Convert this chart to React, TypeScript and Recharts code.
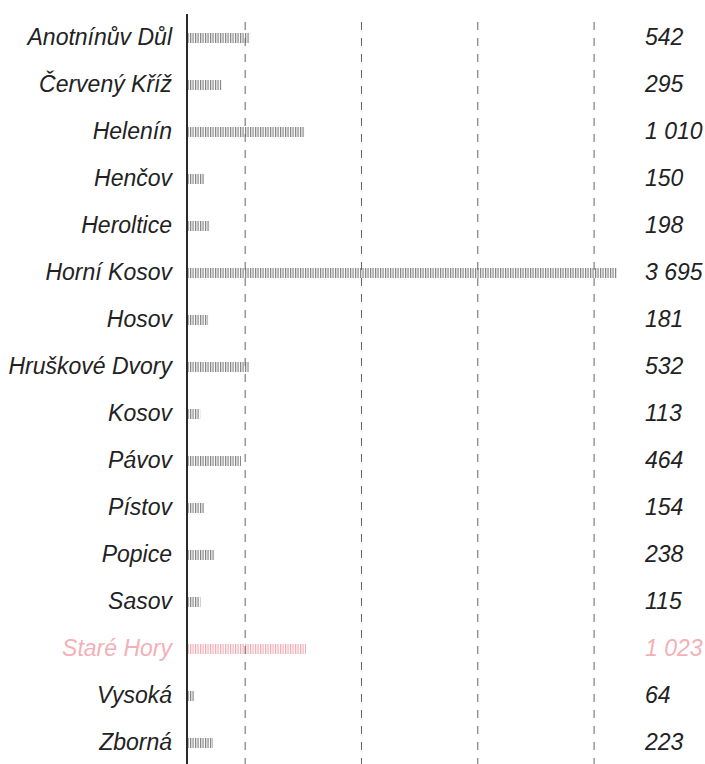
import { BarChart, Bar, XAxis, YAxis, Cell, ReferenceLine } from 'recharts'

const places = [
  'Anotnínův Důl',
  'Červený Kříž',
  'Helenín',
  'Henčov',
  'Heroltice',
  'Horní Kosov',
  'Hosov',
  'Hruškové Dvory',
  'Kosov',
  'Pávov',
  'Pístov',
  'Popice',
  'Sasov',
  'Staré Hory',
  'Vysoká',
  'Zborná',
]

const population = [542, 295, 1010, 150, 198, 3695, 181, 532, 113, 464, 154, 238, 115, 1023, 64, 223]

const gridTicks = [500, 1500, 2500, 3500]

const highlighted = 'Staré Hory'

const data = places.map((name, i) => ({ name, value: population[i] }))

const FONT = '"Liberation Sans", Arial, Helvetica, sans-serif'
const INK = '#222'
const PINK = '#f3b1b7'

const fmt = (v: number) => String(v).replace(/\B(?=(\d{3})+(?!\d))/g, ' ')

function NameTick(props: any) {
  const { x, y, payload } = props
  const hi = payload.value === highlighted
  return (
    <text
      x={x}
      y={y}
      dy={7}
      textAnchor="end"
      fontFamily={FONT}
      fontStyle="italic"
      fontSize={23}
      fill={hi ? PINK : INK}
    >
      {payload.value}
    </text>
  )
}

function ValueTick(props: any) {
  const { x, y, payload, index } = props
  const hi = payload.value === highlighted
  return (
    <text
      x={x}
      y={y}
      dy={7}
      textAnchor="start"
      fontFamily={FONT}
      fontStyle="italic"
      fontSize={23}
      fill={hi ? PINK : INK}
    >
      {fmt(data[index].value)}
    </text>
  )
}

export default function App() {
  return (
    <div
      style={{
        position: 'absolute',
        top: 0,
        left: 0,
        width: 705,
        height: 764,
        overflow: 'hidden',
        background: '#fff',
      }}
    >
      <BarChart
        width={705}
        height={766}
        data={data}
        layout="vertical"
        margin={{ top: 14, right: 0, bottom: 0, left: 0 }}
        barSize={10}
      >
        <defs>
          <pattern id="stripes" width="2.5" height="10" patternUnits="userSpaceOnUse">
            <rect x="0" y="0" width="1.2" height="10" fill="#808080" />
          </pattern>
          <pattern id="stripesPink" width="2.5" height="10" patternUnits="userSpaceOnUse">
            <rect x="0" y="0" width="1.2" height="10" fill="#f2a9b0" />
          </pattern>
        </defs>
        <XAxis type="number" domain={[0, 3800]} ticks={gridTicks} hide />
        <YAxis
          type="category"
          dataKey="name"
          width={187}
          tick={<NameTick />}
          tickLine={false}
          tickSize={0}
          tickMargin={15}
          axisLine={{ stroke: '#2a2a2a', strokeWidth: 2 }}
          interval={0}
        />
        <YAxis
          yAxisId="right"
          orientation="right"
          type="category"
          dataKey="name"
          width={76}
          tick={<ValueTick />}
          tickLine={false}
          tickSize={0}
          tickMargin={16}
          axisLine={false}
          interval={0}
        />
        {gridTicks.map((t) => (
          <ReferenceLine key={t} x={t} stroke="#666" strokeDasharray="8 8" strokeWidth={1} />
        ))}
        <Bar dataKey="value" isAnimationActive={false}>
          {data.map((d) => (
            <Cell key={d.name} fill={d.name === highlighted ? 'url(#stripesPink)' : 'url(#stripes)'} />
          ))}
        </Bar>
      </BarChart>
    </div>
  )
}
